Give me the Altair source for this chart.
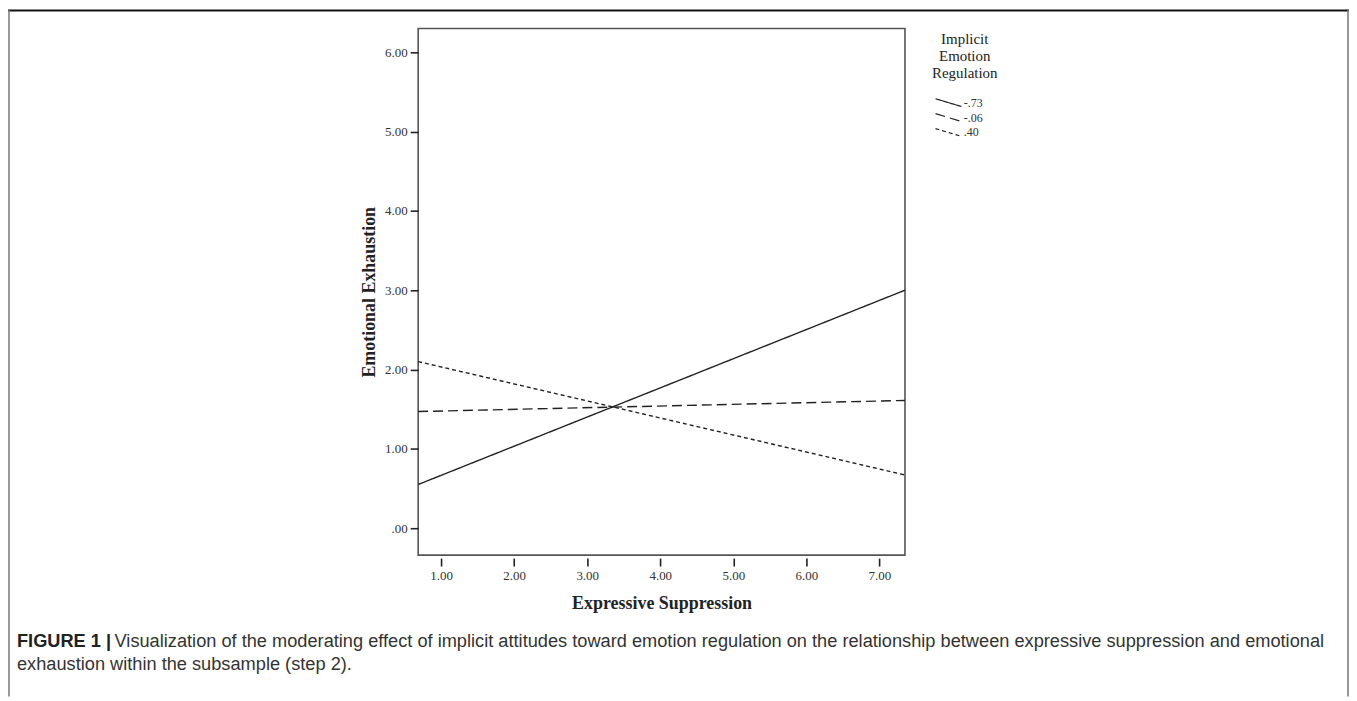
import altair as alt
import pandas as pd

# ---- data ----
x_ends = [0.686, 7.35]
groups = ["-.73", "-.06", ".40"]
y_start = [0.55, 1.47, 2.10]
y_end = [3.00, 1.61, 0.67]
x_ticks = [1, 2, 3, 4, 5, 6, 7]
y_ticks = [0, 1, 2, 3, 4, 5, 6]
caption_bold = "FIGURE 1 |"
caption_line1 = "Visualization of the moderating effect of implicit attitudes toward emotion regulation on the relationship between expressive suppression and emotional"
caption_line2 = "exhaustion within the subsample (step 2)."

rows = []
for g, a, b in zip(groups, y_start, y_end):
    rows.append({"g": g, "x": x_ends[0], "y": a})
    rows.append({"g": g, "x": x_ends[1], "y": b})
df = pd.DataFrame(rows)

W, H = 489, 529
PADL, PADT, PADR, PADB = 412, 19, 446, 142
SERIF = "Liberation Serif"
SANS = "Liberation Sans"
INK = "#222222"

lines = alt.Chart(df).mark_line(strokeWidth=1.4, color=INK).encode(
    x=alt.X("x:Q",
            scale=alt.Scale(domain=[x_ends[0], x_ends[1]], nice=False, zero=False),
            axis=alt.Axis(values=x_ticks, format=".2f", title="Expressive Suppression",
                          domain=False, grid=False, tickSize=8, offset=3,
                          tickColor=INK, tickWidth=1.6,
                          labelFont=SERIF, labelFontSize=13, labelColor="#333",
                          labelPadding=4,
                          titleFont=SERIF, titleFontSize=18, titleFontWeight="bold",
                          titleColor="#222", titlePadding=12)),
    y=alt.Y("y:Q",
            scale=alt.Scale(domain=[-0.34, 6.30], nice=False, zero=False),
            axis=alt.Axis(values=y_ticks,
                          labelExpr="datum.value == 0 ? '.00' : format(datum.value, '.2f')",
                          title="Emotional Exhaustion",
                          domain=False, grid=False, tickSize=8,
                          tickColor=INK, tickWidth=1.6,
                          labelFont=SERIF, labelFontSize=13, labelColor="#333",
                          labelPadding=3,
                          titleFont=SERIF, titleFontSize=18, titleFontWeight="bold",
                          titleColor="#222", titlePadding=6)),
    strokeDash=alt.StrokeDash("g:N",
        scale=alt.Scale(domain=groups, range=[[1, 0], [10, 5], [4, 3]]),
        legend=alt.Legend(title=["Implicit", "Emotion", "Regulation"],
                          orient="none", legendX=516, legendY=4,
                          titleFont=SERIF, titleFontSize=15, titleFontWeight="normal",
                          titleColor="#222", titleAlign="center", titleAnchor="middle",
                          titleLineHeight=17, titlePadding=14,
                          labelFont=SERIF, labelFontSize=12, labelColor="#333",
                          labelOffset=2,
                          symbolType="M-2.9,-0.6L1.1,0.6", symbolSize=169,
                          symbolStrokeColor=INK, symbolStrokeWidth=1.2,
                          symbolFillColor="transparent", rowPadding=1)),
)

# outer frame (decoration)
frame_top = alt.Chart().mark_rule(color="#111", strokeWidth=2).encode(
    x=alt.value(-PADL), x2=alt.value(W + PADR), y=alt.value(-PADT + 1))
frame_left = alt.Chart().mark_rule(color="#777", strokeWidth=1.5).encode(
    x=alt.value(-PADL + 1), y=alt.value(-PADT), y2=alt.value(H + PADB))
frame_right = alt.Chart().mark_rule(color="#777", strokeWidth=1.5).encode(
    x=alt.value(W + PADR - 1), y=alt.value(-PADT), y2=alt.value(H + PADB))

cap_bold = alt.Chart().mark_text(font=SANS, fontSize=18.3, fontWeight="bold", align="left",
                                 baseline="middle", color="#222").encode(
    x=alt.value(-403), y=alt.value(616), text=alt.value(caption_bold))
cap1 = alt.Chart().mark_text(font=SANS, fontSize=18.3, align="left",
                             baseline="middle", color="#333").encode(
    x=alt.value(-305), y=alt.value(616), text=alt.value(caption_line1))
cap2 = alt.Chart().mark_text(font=SANS, fontSize=18.3, align="left",
                             baseline="middle", color="#333").encode(
    x=alt.value(-403), y=alt.value(639), text=alt.value(caption_line2))

chart = alt.layer(lines, frame_top, frame_left, frame_right, cap_bold, cap1, cap2).properties(
    width=W, height=H,
    autosize=alt.AutoSizeParams(type="none"),
    padding={"left": PADL, "top": PADT, "right": PADR, "bottom": PADB},
).configure(
    background="white",
    view=alt.ViewConfig(stroke="#555", strokeWidth=1.6),
)

chart.save("out.html", embed_options={"renderer": "svg", "actions": False})
